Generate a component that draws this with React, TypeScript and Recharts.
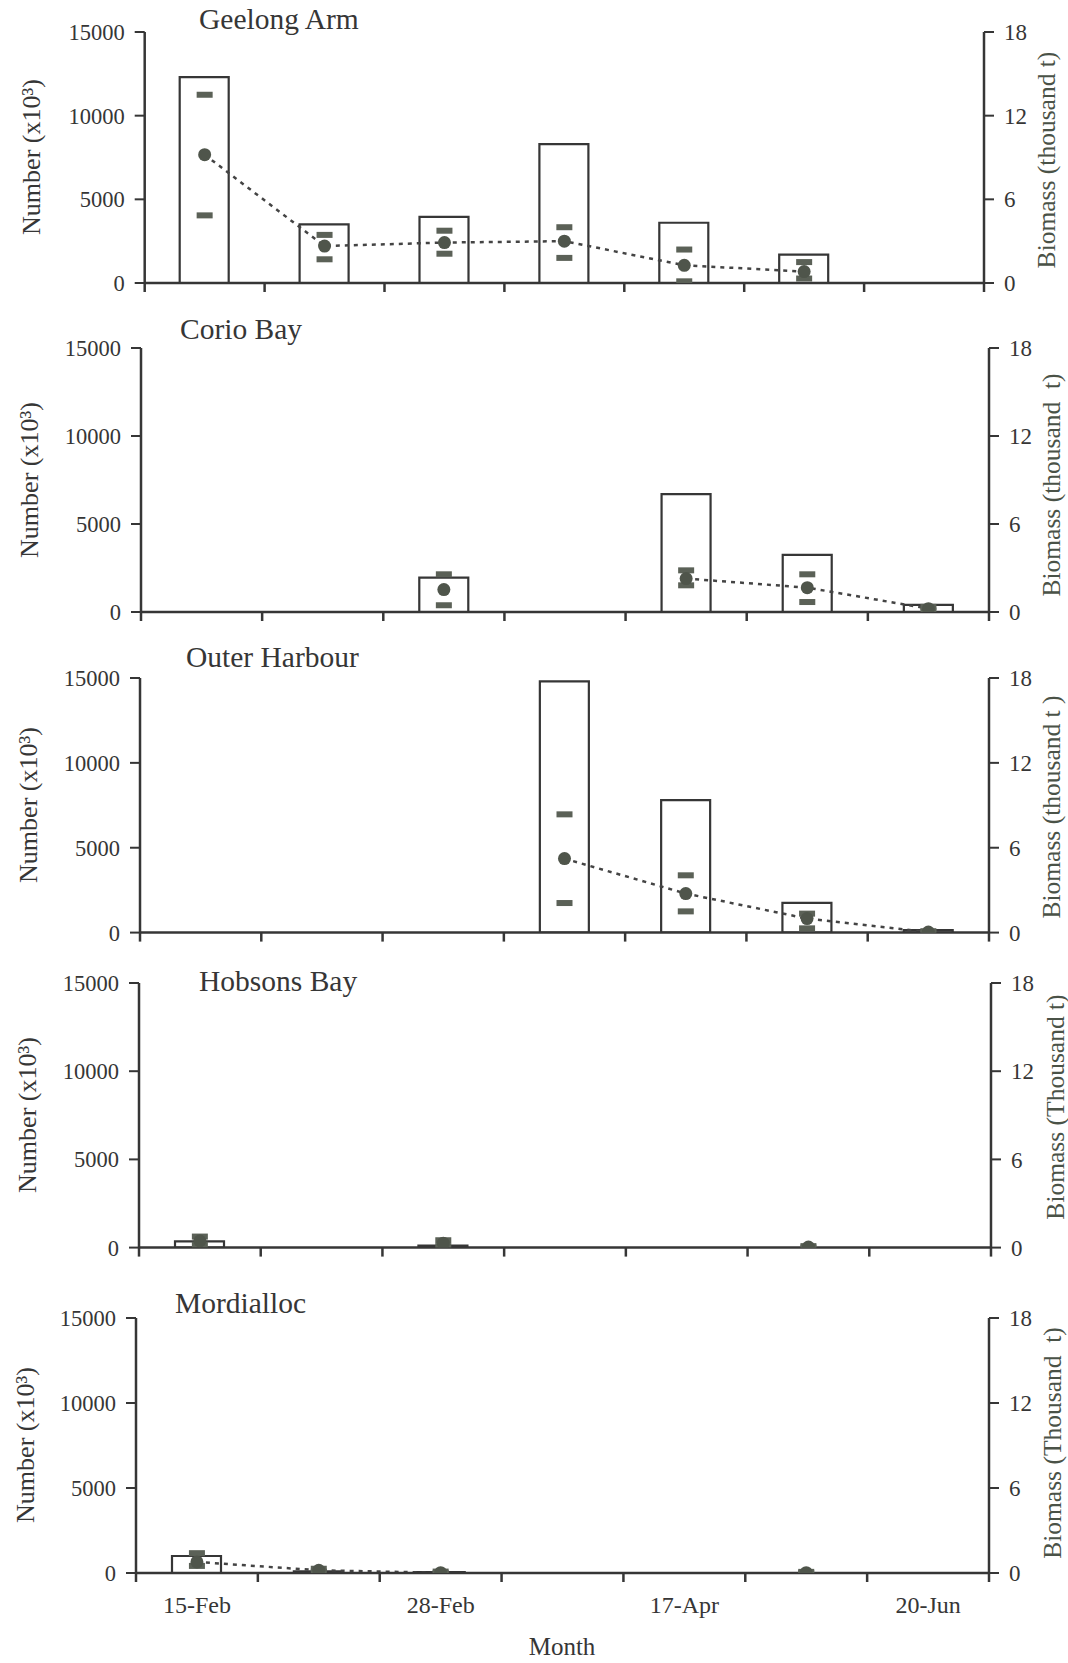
import React from "react";
import { ComposedChart, Bar, Line, XAxis, YAxis } from "recharts";

// ---------------- data ----------------
const surveys = ["S1", "S2", "S3", "S4", "S5", "S6", "S7"];
const monthTickLabels = ["15-Feb", "", "28-Feb", "", "17-Apr", "", "20-Jun"];
const numberTicks = [0, 5000, 10000, 15000];
const biomassTicks = [0, 6, 12, 18];

// Geelong Arm
const geelongNumber = [12300, 3500, 3950, 8300, 3600, 1700, null];
const geelongBiomass = [9.2, 2.65, 2.9, 3.0, 1.27, 0.82, null];
const geelongHi = [13.5, 3.45, 3.75, 4.0, 2.4, 1.5, null];
const geelongLo = [4.85, 1.7, 2.1, 1.8, 0.12, 0.32, null];

// Corio Bay
const corioNumber = [null, null, 1950, null, 6700, 3250, 400];
const corioBiomass = [null, null, 1.53, null, 2.28, 1.66, 0.23];
const corioHi = [null, null, 2.57, null, 2.84, 2.57, 0.35];
const corioLo = [null, null, 0.46, null, 1.82, 0.68, 0.1];

// Outer Harbour
const outerNumber = [null, null, null, 14800, 7800, 1750, 150];
const outerBiomass = [null, null, null, 5.23, 2.76, 0.99, 0.04];
const outerHi = [null, null, null, 8.36, 4.05, 1.34, 0.1];
const outerLo = [null, null, null, 2.09, 1.5, 0.3, 0.0];

// Hobsons Bay
const hobsonsNumber = [350, null, 120, null, null, null, null];
const hobsonsBiomass = [0.45, null, 0.3, null, null, 0.04, null];
const hobsonsHi = [0.75, null, 0.5, null, null, 0.1, null];
const hobsonsLo = [0.2, null, 0.1, null, null, 0.0, null];

// Mordialloc
const mordiallocNumber = [1000, 100, 50, null, null, null, null];
const mordiallocBiomass = [0.78, 0.19, 0.02, null, null, 0.02, null];
const mordiallocHi = [1.4, 0.3, 0.1, null, null, 0.08, null];
const mordiallocLo = [0.5, 0.1, 0.0, null, null, 0.0, null];

// ---------------- style / layout ----------------
const SERIF = "'Liberation Serif', 'Times New Roman', Times, serif";
const INK = "#363636";
const MARK = "#4f554b";
const CAP = "#5b6157";
const RLABEL = "#4a5247";

type PanelCfg = {
  title: string;
  rightLabel: string;
  number: (number | null)[];
  biomass: (number | null)[];
  hi: (number | null)[];
  lo: (number | null)[];
  showMonths: boolean;
  top: number;
  bottom: number;
  left: number;
  right: number;
  titleX: number;
  titleY: number;
  leftLabel: [number, number];
  rightLabelPos: [number, number];
};

const panels: PanelCfg[] = [
  {
    title: "Geelong Arm", rightLabel: "Biomass (thousand t)",
    number: geelongNumber, biomass: geelongBiomass, hi: geelongHi, lo: geelongLo,
    showMonths: false, top: 31.7, bottom: 282.7, left: 144.7, right: 984,
    titleX: 199, titleY: 29, leftLabel: [31, 157], rightLabelPos: [1046, 160],
  },
  {
    title: "Corio Bay", rightLabel: "Biomass (thousand  t)",
    number: corioNumber, biomass: corioBiomass, hi: corioHi, lo: corioLo,
    showMonths: false, top: 347.7, bottom: 611.7, left: 141, right: 989,
    titleX: 180, titleY: 339, leftLabel: [29, 480], rightLabelPos: [1051, 485],
  },
  {
    title: "Outer Harbour", rightLabel: "Biomass (thousand t )",
    number: outerNumber, biomass: outerBiomass, hi: outerHi, lo: outerLo,
    showMonths: false, top: 677.7, bottom: 932.3, left: 140, right: 989,
    titleX: 186, titleY: 667, leftLabel: [28, 805], rightLabelPos: [1051, 807],
  },
  {
    title: "Hobsons Bay", rightLabel: "Biomass (Thousand t)",
    number: hobsonsNumber, biomass: hobsonsBiomass, hi: hobsonsHi, lo: hobsonsLo,
    showMonths: false, top: 982.7, bottom: 1247.3, left: 139, right: 991,
    titleX: 199, titleY: 991, leftLabel: [27, 1115], rightLabelPos: [1055, 1107],
  },
  {
    title: "Mordialloc", rightLabel: "Biomass (Thousand  t)",
    number: mordiallocNumber, biomass: mordiallocBiomass, hi: mordiallocHi, lo: mordiallocLo,
    showMonths: true, top: 1317.7, bottom: 1572.7, left: 136, right: 989,
    titleX: 175, titleY: 1313, leftLabel: [25, 1445], rightLabelPos: [1052, 1443],
  },
];

const MT = 20;
const MB = 10;
const XH = 50;
const LW = 80;
const RW = 60;

const CapDot = (props: any) => {
  const { cx, cy, index } = props;
  if (cx == null || cy == null || isNaN(cx) || isNaN(cy)) return <g key={`c${index}`} />;
  return <rect key={`c${index}`} x={cx - 8} y={cy - 3} width={16} height={6} fill={CAP} />;
};

const MeanDot = (props: any) => {
  const { cx, cy, index } = props;
  if (cx == null || cy == null || isNaN(cx) || isNaN(cy)) return <g key={`m${index}`} />;
  return <circle key={`m${index}`} cx={cx} cy={cy} r={6.5} fill={MARK} />;
};

function PanelChart({ p }: { p: PanelCfg }) {
  const plotH = p.bottom - p.top;
  const plotW = p.right - p.left;
  const height = MT + plotH + XH + MB;
  const bw = plotW / surveys.length;
  const axisY = MT + plotH;
  const data = surveys.map((s, i) => ({
    survey: s,
    number: p.number[i],
    biomass: p.biomass[i],
    hi: p.hi[i],
    lo: p.lo[i],
  }));

  const XTick = (props: any) => {
    const { x, index } = props;
    const l = x - bw / 2;
    const r = x + bw / 2;
    const label = monthTickLabels[index];
    return (
      <g>
        <line x1={l} x2={l} y1={axisY} y2={axisY + 9} stroke={INK} strokeWidth={2.5} />
        {index === surveys.length - 1 && (
          <line x1={r} x2={r} y1={axisY} y2={axisY + 9} stroke={INK} strokeWidth={2.5} />
        )}
        {p.showMonths && label ? (
          <text x={x} y={axisY + 40} textAnchor="middle" fontFamily={SERIF} fontSize={24} fill={INK}>
            {label}
          </text>
        ) : null}
      </g>
    );
  };

  return (
    <div style={{ position: "absolute", left: 0, top: p.top - MT }}>
      <ComposedChart
        width={1068}
        height={height}
        data={data}
        margin={{ top: MT, bottom: MB, left: p.left - LW, right: 1068 - p.right - RW }}
      >
        <XAxis
          dataKey="survey"
          interval={0}
          tickLine={false}
          axisLine={{ stroke: INK, strokeWidth: 2.5 }}
          height={XH}
          tick={XTick}
        />
        <YAxis
          yAxisId="n"
          type="number"
          domain={[0, 15000]}
          ticks={numberTicks}
          interval={0}
          width={LW}
          tickSize={10}
          tickMargin={10}
          stroke={INK}
          axisLine={{ stroke: INK, strokeWidth: 2.5 }}
          tickLine={{ stroke: INK, strokeWidth: 2 }}
          tick={{ fill: INK, fontSize: 22.5, fontFamily: SERIF }}
          allowDataOverflow
        />
        <YAxis
          yAxisId="b"
          orientation="right"
          type="number"
          domain={[0, 18]}
          ticks={biomassTicks}
          interval={0}
          width={RW}
          tickSize={10}
          tickMargin={10}
          stroke={INK}
          axisLine={{ stroke: INK, strokeWidth: 2.5 }}
          tickLine={{ stroke: INK, strokeWidth: 2 }}
          tick={{ fill: INK, fontSize: 23, fontFamily: SERIF }}
          allowDataOverflow
        />
        <Bar
          yAxisId="n"
          dataKey="number"
          barSize={49}
          fill="#ffffff"
          stroke={INK}
          strokeWidth={2.2}
          isAnimationActive={false}
        />
        <Line
          yAxisId="b"
          dataKey="hi"
          stroke="none"
          dot={CapDot}
          activeDot={false}
          isAnimationActive={false}
        />
        <Line
          yAxisId="b"
          dataKey="lo"
          stroke="none"
          dot={CapDot}
          activeDot={false}
          isAnimationActive={false}
        />
        <Line
          yAxisId="b"
          type="linear"
          dataKey="biomass"
          stroke="#444444"
          strokeWidth={2.5}
          strokeDasharray="4 5"
          dot={MeanDot}
          activeDot={false}
          isAnimationActive={false}
        />
      </ComposedChart>
    </div>
  );
}

export default function App() {
  return (
    <div style={{ position: "absolute", left: 0, top: 0, width: 1068, height: 1663, background: "#fff" }}>
      {panels.map((p) => (
        <PanelChart key={p.title} p={p} />
      ))}
      <svg
        width={1068}
        height={1663}
        style={{ position: "absolute", left: 0, top: 0, pointerEvents: "none" }}
      >
        {panels.map((p) => (
          <g key={p.title}>
            <text x={p.titleX} y={p.titleY} fontFamily={SERIF} fontSize={29.5} fill={INK}>
              {p.title}
            </text>
            <text
              x={p.leftLabel[0]}
              y={p.leftLabel[1]}
              transform={`rotate(-90, ${p.leftLabel[0]}, ${p.leftLabel[1]})`}
              textAnchor="middle"
              dominantBaseline="central"
              fontFamily={SERIF}
              fontSize={26}
              fill={INK}
            >
              Number (x10³)
            </text>
            <text
              x={p.rightLabelPos[0]}
              y={p.rightLabelPos[1]}
              transform={`rotate(-90, ${p.rightLabelPos[0]}, ${p.rightLabelPos[1]})`}
              textAnchor="middle"
              dominantBaseline="central"
              fontFamily={SERIF}
              fontSize={25.5}
              fill={RLABEL}
              style={{ whiteSpace: "pre" }}
            >
              {p.rightLabel}
            </text>
          </g>
        ))}
        <text x={562} y={1655} textAnchor="middle" fontFamily={SERIF} fontSize={25} fill={INK}>
          Month
        </text>
      </svg>
    </div>
  );
}
